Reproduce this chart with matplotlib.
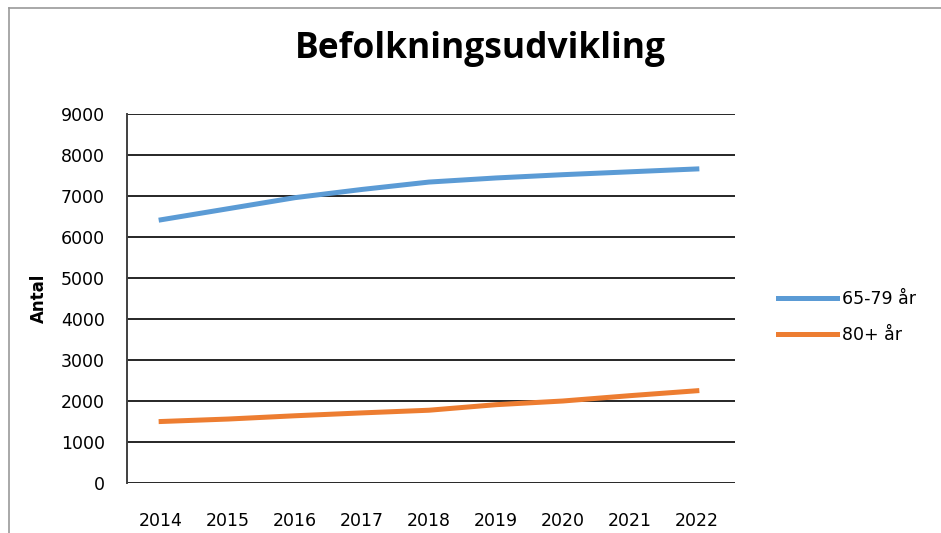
import matplotlib
matplotlib.use('Agg')
import matplotlib.pyplot as plt
from matplotlib.lines import Line2D

# Data
years = [2014, 2015, 2016, 2017, 2018, 2019, 2020, 2021, 2022]
age_65_79 = [6420, 6690, 6960, 7160, 7340, 7440, 7520, 7590, 7660]
age_80_plus = [1500, 1560, 1640, 1710, 1775, 1910, 2000, 2130, 2250]
series_names = ['65-79 år', '80+ år']

plt.rcParams['font.family'] = ['DejaVu Sans']

fig = plt.figure(figsize=(9.41, 5.33), dpi=100)
ax = fig.add_axes([127/941, 50/533, (735-127)/941, (483-114)/533])

ax.plot(years, age_65_79, color='#5B9BD5', lw=3.6, label=series_names[0], zorder=3)
ax.plot(years, age_80_plus, color='#ED7D31', lw=3.6, label=series_names[1], zorder=3)

ax.set_ylim(0, 9000)
ax.set_xlim(2013.49, 2022.57)
ax.set_yticks(range(0, 9001, 1000))
ax.set_xticks(years)
ax.grid(axis='y', color='#262626', lw=1.4)
ax.set_axisbelow(True)

for s in ['top', 'right', 'bottom']:
    ax.spines[s].set_visible(False)
ax.spines['left'].set_color('#404040')
ax.spines['left'].set_linewidth(1.4)
ax.tick_params(axis='x', length=0, pad=21, labelsize=12.5)
ax.tick_params(axis='y', length=0, pad=16, labelsize=12.5)

ax.set_ylabel('Antal', fontsize=12, fontweight='bold', labelpad=9)

fig.text(480/941, 1 - 49/533, 'Befolkningsudvikling', ha='center', va='center',
         fontsize=25.5, fontweight='bold', family='Open Sans')

leg = ax.legend(loc='center left', bbox_to_anchor=(1.045, 0.45), frameon=False,
                fontsize=12.5, handlelength=3.4, labelspacing=1.05, handletextpad=0.3)

# outer chart border (left and top edges visible)
fig.add_artist(Line2D([9/941, 9/941], [0, 1 - 8/533], color='#9a9a9a', lw=1.2,
                      transform=fig.transFigure))
fig.add_artist(Line2D([9/941, 1], [1 - 8/533, 1 - 8/533], color='#9a9a9a', lw=1.2,
                      transform=fig.transFigure))

fig.savefig('out.png', dpi=100)
